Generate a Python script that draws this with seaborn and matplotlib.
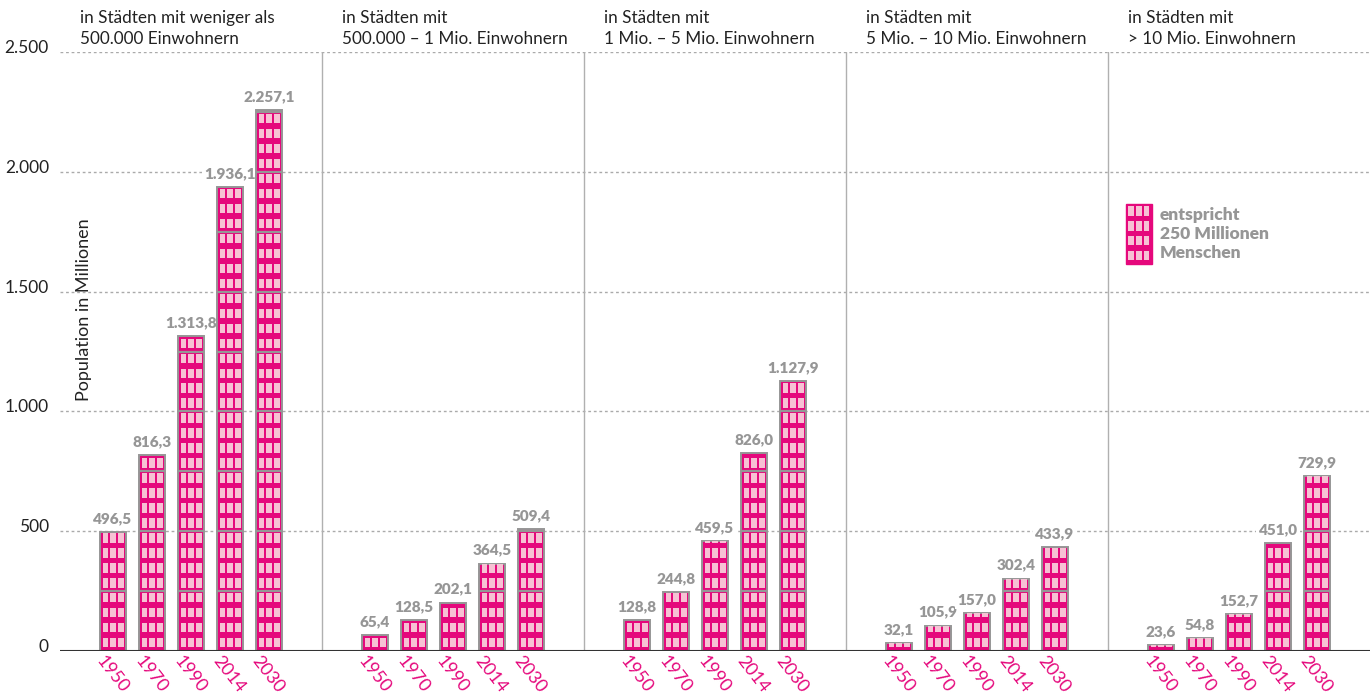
import numpy as np
import pandas as pd
import matplotlib
matplotlib.use("Agg")
import matplotlib.pyplot as plt
import matplotlib.transforms as mtransforms
from matplotlib.patches import Rectangle
import seaborn as sns

# data (population in millions)
groups = [
    "in Städten mit weniger als\n500.000 Einwohnern",
    "in Städten mit\n500.000 – 1 Mio. Einwohnern",
    "in Städten mit\n1 Mio. – 5 Mio. Einwohnern",
    "in Städten mit\n5 Mio. – 10 Mio. Einwohnern",
    "in Städten mit\n> 10 Mio. Einwohnern",
]
years = ["1950", "1970", "1990", "2014", "2030"]
pop_lt_500k = [496.5, 816.3, 1313.8, 1936.1, 2257.1]
pop_500k_1m = [65.4, 128.5, 202.1, 364.5, 509.4]
pop_1m_5m = [128.8, 244.8, 459.5, 826.0, 1127.9]
pop_5m_10m = [32.1, 105.9, 157.0, 302.4, 433.9]
pop_gt_10m = [23.6, 54.8, 152.7, 451.0, 729.9]
yticks = [0, 500, 1000, 1500, 2000, 2500]
ytick_labels = ["0", "500", "1.000", "1.500", "2.000", "2.500"]
legend_lines = "entspricht\n250 Millionen\nMenschen"

PINK = "#e5087c"
WIN = "#f7c1d4"
GRAY = "#969696"
BLOCK = 250

series = [pop_lt_500k, pop_500k_1m, pop_1m_5m, pop_5m_10m, pop_gt_10m]
P = 262.0 / 39.0  # panel width in bar-spacing units

rows = []
for g, vals in enumerate(series):
    for j, (yr, v) in enumerate(zip(years, vals)):
        rows.append({"group": g, "year": yr, "value": v,
                     "pos": round(g * P + P / 2 + (j - 2), 4)})
df = pd.DataFrame(rows)

sns.set_style("white")
plt.rcParams["font.family"] = ["Lato", "DejaVu Sans"]

fig = plt.figure(figsize=(13.7, 6.98), dpi=100)
ax = fig.add_axes([60 / 1370, 1 - 651 / 698, 1310 / 1370, (651 - 52) / 698])

sns.barplot(data=df, x="pos", y="value", native_scale=True, color=PINK,
            saturation=1, width=0.667, errorbar=None, edgecolor=GRAY,
            linewidth=1.4, ax=ax, zorder=3)


def add_windows(ax, x, w, h, y0=0, clip=None):
    nblocks = int(np.ceil(h / BLOCK))
    for k in range(nblocks):
        base = y0 + k * BLOCK
        for r in range(4):
            for c in range(3):
                win = Rectangle((x + w * (0.10 + 0.29 * c), base + r * 62.5 + 15),
                                w * 0.225, 39, facecolor=WIN, edgecolor="none",
                                zorder=4)
                ax.add_patch(win)
                if clip is not None:
                    win.set_clip_path(clip)
        if k > 0 and clip is not None:
            ax.plot([x, x + w], [base, base], color=GRAY, lw=1.6, zorder=5,
                    solid_capstyle="butt")


bars = list(ax.patches)
for bar in bars:
    x, w, h = bar.get_x(), bar.get_width(), bar.get_height()
    add_windows(ax, x, w, h, clip=bar)
    lab = f"{h:,.1f}".replace(",", "X").replace(".", ",").replace("X", ".")
    ax.annotate(lab, (x + w / 2, h), xytext=(0, 5), textcoords="offset points",
                ha="center", va="bottom", fontsize=11, fontweight="heavy",
                color=GRAY, zorder=2,
                bbox=dict(boxstyle="square,pad=0.15", fc="white", ec="none"))

# legend icon: one block = 250 million
lx, ly = 27.33, 1615
icon = Rectangle((lx, ly), 0.667, BLOCK, facecolor=PINK, edgecolor=PINK,
                 lw=1, zorder=3)
ax.add_patch(icon)
add_windows(ax, lx, 0.667, BLOCK, y0=ly)
ax.text(28.2, ly + BLOCK / 2, legend_lines, ha="left", va="center",
        fontsize=12.5, fontweight="heavy", color=GRAY, linespacing=1.2)

# grid, separators, baseline
for yv in yticks[1:]:
    ax.axhline(yv, color="#aaaaaa", lw=1, ls=(0, (2, 2)), zorder=1)
ax.axhline(0, color="#333333", lw=1.5, zorder=6)
for g in range(1, 5):
    ax.plot([g * P, g * P], [0, 2500], color="#b0b0b0", lw=1, zorder=1)

for g, title in enumerate(groups):
    ax.text(g * P + 0.5, 2598, title, ha="left", va="center", fontsize=12.3,
            color="#222222", linespacing=1.35, clip_on=False)

ax.text(0.62, 1423, "Population in Millionen", rotation=90, ha="center",
        va="center", fontsize=13, color="#222222")

ax.set_xlim(0, 5 * P)
ax.set_ylim(0, 2500)
ax.set_yticks(yticks, ytick_labels)
ax.tick_params(axis="y", length=0, pad=8, labelsize=12.5, labelcolor="#222222")
up = mtransforms.ScaledTranslation(0, 4 / 72, fig.dpi_scale_trans)
for t in ax.get_yticklabels():
    t.set_transform(t.get_transform() + up)
ax.set_xticks(df["pos"], [yr for _ in series for yr in years])
ax.tick_params(axis="x", length=0, pad=5, labelsize=13, labelcolor=PINK)
shift = mtransforms.ScaledTranslation(-10 / 72, 0, fig.dpi_scale_trans)
for t in ax.get_xticklabels():
    t.set_rotation(-52)
    t.set_ha("left")
    t.set_va("center")
    t.set_rotation_mode("anchor")
    t.set_transform(t.get_transform() + shift)
ax.set_xlabel("")
ax.set_ylabel("")
sns.despine(ax=ax, left=True, bottom=True)

fig.savefig("out.png", dpi=100)
